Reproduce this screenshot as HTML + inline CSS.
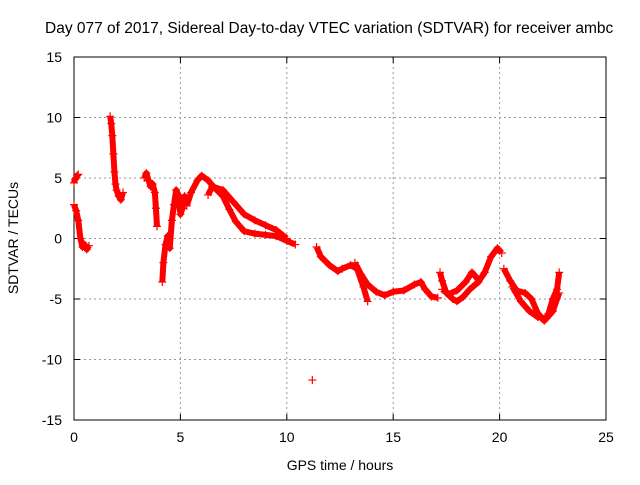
<!DOCTYPE html>
<html><head><meta charset="utf-8"><style>
body{margin:0;background:#fff}
svg{font-family:"Liberation Sans",sans-serif;font-size:14px}
</style></head><body>
<svg width="640" height="480">
<text x="45" y="33" style="font-size:15.5px">Day 077 of 2017, Sidereal Day-to-day VTEC variation (SDTVAR) for receiver ambc</text>
<g id="grid"></g><g id="axes"></g><g id="marks"></g>
<text x="340" y="470" text-anchor="middle">GPS time / hours</text>
<text transform="translate(18,238) rotate(-90)" text-anchor="middle">SDTVAR / TECUs</text>
</svg>
<script>
const xTicks=[0,5,10,15,20,25];
const yTicks=[-15,-10,-5,0,5,10,15];
const segA1=[[0,4.6],[0.05,4.9],[0.1,5.0],[0.15,5.2],[0.2,5.3]];
const segA2=[[0,2.8],[0.1,2.3],[0.2,1.5],[0.3,0],[0.4,-0.7],[0.5,-0.5],[0.6,-0.9],[0.7,-0.6]];
const segB=[[1.7,10.1],[1.75,9.5],[1.8,8.5],[1.85,7],[1.9,5.5],[1.95,4.5],[2.0,4],[2.1,3.5],[2.2,3.2],[2.3,3.8]];
const segC=[[3.3,5],[3.4,5.4],[3.5,4.8],[3.6,4.3],[3.7,4.5],[3.8,3.8],[3.85,2.5],[3.9,1]];
const segD=[[4.15,-3.6],[4.2,-2],[4.3,-0.5],[4.4,0.2],[4.5,-0.8],[4.6,1.5],[4.7,2.8],[4.8,4],[4.9,3.6],[5.0,2],[5.1,2.5],[5.2,3.5],[5.3,3]];
const segE1=[[5.3,2.7],[5.5,3.8],[5.8,4.8],[6.0,5.2],[6.3,4.8],[6.6,4.2],[7.0,3.5],[7.3,2.4],[7.6,1.4],[8.0,0.6],[8.5,0.4],[9.0,0.3],[9.5,0.2],[10.0,-0.2],[10.4,-0.5]];
const segE2=[[6.3,3.6],[6.5,4.3],[7.0,4.0],[7.5,3.0],[8.0,2.0],[8.5,1.5],[9.0,1.1],[9.5,0.7],[10.0,0.0]];
const segF=[[11.2,-11.7]];
const segG1=[[11.4,-0.7],[11.6,-1.5],[12.0,-2.2],[12.4,-2.7],[12.6,-2.5],[13.0,-2.2],[13.3,-2.5],[13.6,-4],[13.8,-5.2]];
const segG2=[[13.2,-2.0],[13.5,-3.0],[13.8,-3.8],[14.2,-4.4],[14.6,-4.7],[15.0,-4.4],[15.5,-4.3],[16.0,-3.8],[16.3,-3.6],[16.5,-4.2],[16.8,-4.8],[17.1,-4.9]];
const segH1=[[17.2,-2.8],[17.3,-3.5],[17.5,-4.5],[17.8,-5.0],[18.0,-5.2],[18.3,-4.8],[18.6,-4.2],[19.0,-3.6],[19.3,-2.8],[19.6,-1.5],[19.9,-0.8],[20.1,-1.2]];
const segH2=[[17.3,-4.2],[17.6,-4.6],[18.0,-4.3],[18.4,-3.6],[18.7,-2.8],[19.0,-3.4]];
const segI1=[[20.2,-2.5],[20.5,-3.5],[20.8,-4.3],[21.2,-4.5],[21.5,-5.0],[21.8,-6.2],[22.1,-6.8],[22.3,-6.2],[22.5,-5.0],[22.7,-4.2],[22.8,-2.8]];
const segI2=[[20.6,-4.0],[21.0,-5.2],[21.4,-6],[21.8,-6.5],[22.2,-6.6],[22.5,-6.0],[22.8,-4.5]];
const series=[segA1,segA2,segB,segC,segD,segE1,segE2,segF,segG1,segG2,segH1,segH2,segI1,segI2];
const L=74,R=606,T=57,B=420;
const sx=v=>L+(v-0)/25*(R-L);
const sy=v=>B-(v+15)/30*(B-T);
const NS="http://www.w3.org/2000/svg";
function mk(tag,attrs,parent){const e=document.createElementNS(NS,tag);for(const k in attrs)e.setAttribute(k,attrs[k]);parent.appendChild(e);return e;}
const grid=document.getElementById('grid'),axes=document.getElementById('axes'),marks=document.getElementById('marks');
xTicks.forEach(t=>{const x=sx(t);
 if(t>0&&t<25){const g=mk('line',{x1:x,x2:x,y1:T,y2:B,stroke:'#999','stroke-dasharray':'2,3'},grid);}
 mk('line',{x1:x,x2:x,y1:B,y2:B-6,stroke:'#000'},axes);mk('line',{x1:x,x2:x,y1:T,y2:T+6,stroke:'#000'},axes);
 const tx=mk('text',{x:x,y:B+22,'text-anchor':'middle'},axes);tx.textContent=t;
 });
yTicks.forEach(t=>{const y=sy(t);
 if(t>-15&&t<15){const g=mk('line',{x1:L,x2:R,y1:y,y2:y,stroke:'#999','stroke-dasharray':'2,3'},grid);}
 mk('line',{x1:L,x2:L+6,y1:y,y2:y,stroke:'#000'},axes);mk('line',{x1:R,x2:R-6,y1:y,y2:y,stroke:'#000'},axes);
 const tx=mk('text',{x:L-12,y:y+5,'text-anchor':'end'},axes);tx.textContent=t;
 });
const fr=mk('rect',{x:L,y:T,width:R-L,height:B-T,fill:'none',stroke:'#000'},axes);

series.forEach(s=>{
 if(s.length>1){const p=mk('polyline',{points:s.map(d=>sx(d[0])+','+sy(d[1])).join(' '),fill:'none',stroke:'#f00','stroke-width':6,'stroke-linejoin':'round'},marks);
  }
 s.forEach(d=>{const x=sx(d[0]),y=sy(d[1]);
  const m=mk('path',{d:`M${x-4},${y}H${x+4}M${x},${y-4}V${y+4}`,stroke:'#f00','stroke-width':1.2},marks);
  });
});
</script>
</body></html>
